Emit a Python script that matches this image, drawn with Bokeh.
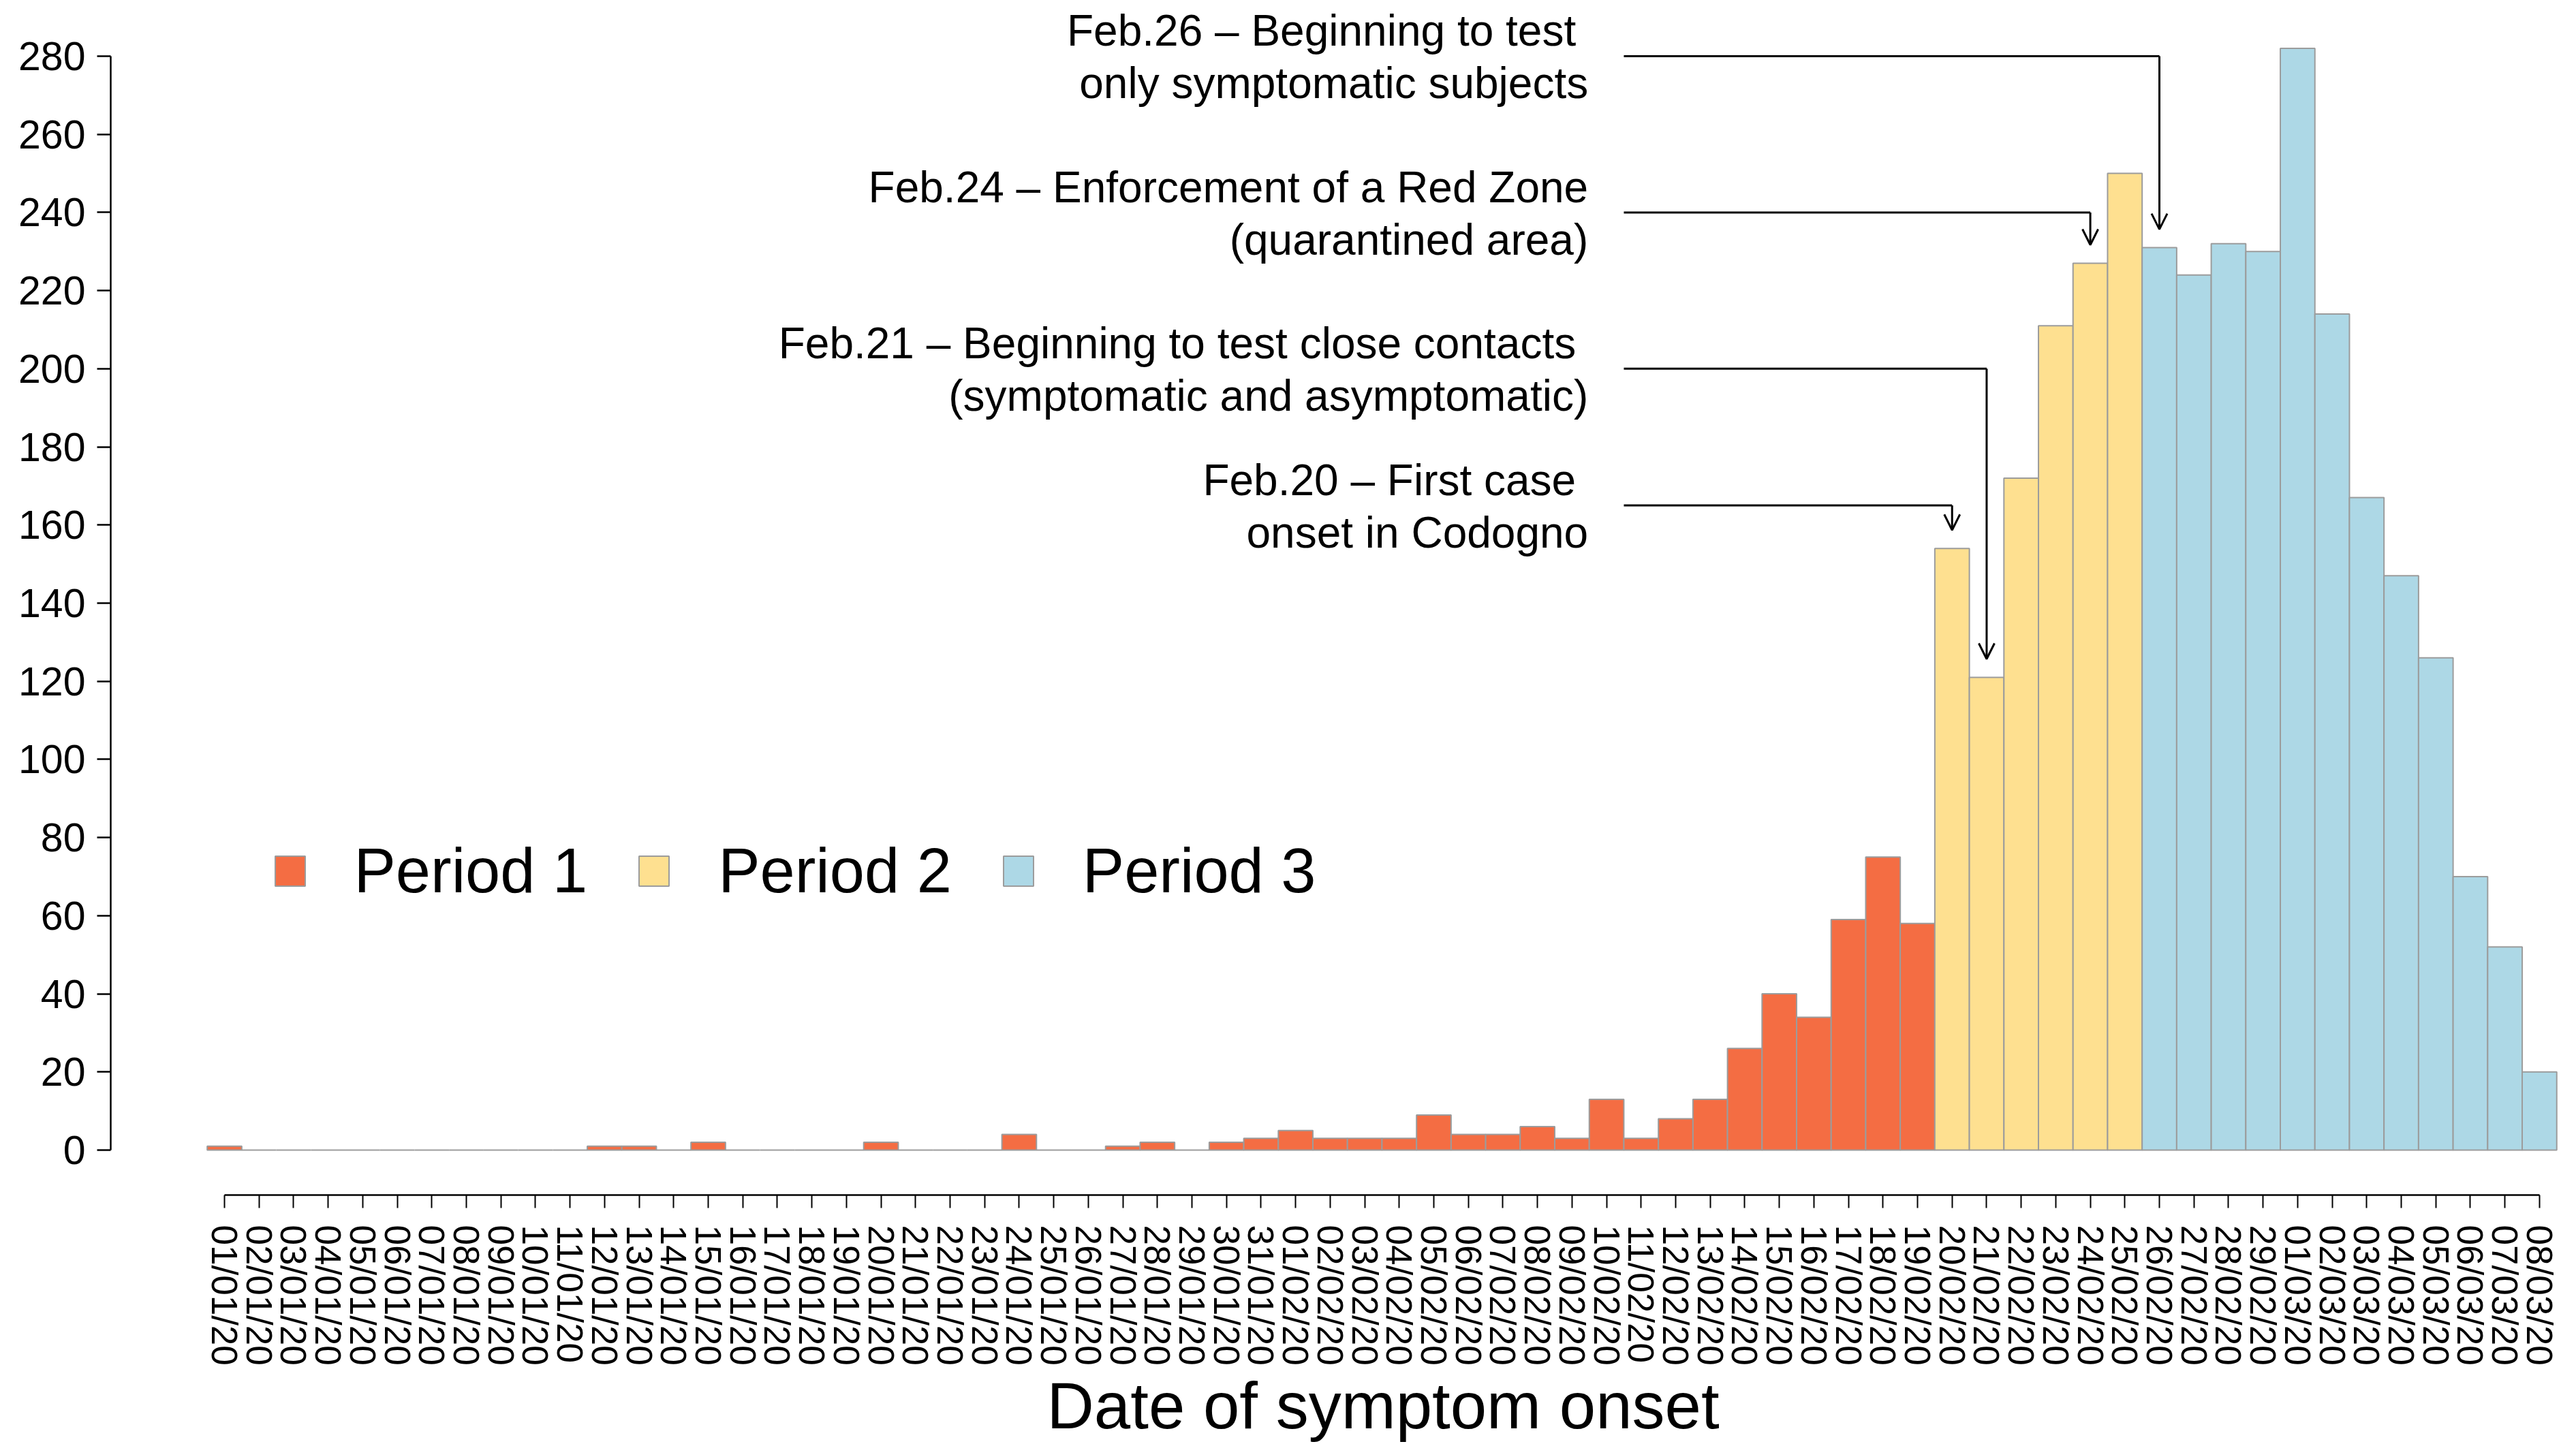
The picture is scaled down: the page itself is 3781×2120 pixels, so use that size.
import pandas as pd
from bokeh.plotting import figure
from bokeh.models import (ColumnDataSource, FixedTicker, Range1d, Legend,
                          LegendItem, Arrow, OpenHead, Title)
from bokeh.core.properties import value
from bokeh.embed import file_html
from bokeh.resources import INLINE

# ---------------- data ----------------
dates = pd.date_range("2020-01-01", "2020-03-08", freq="D")
date_labels = [d.strftime("%d/%m/%y") for d in dates]

cases = [
    # January 1..31
    1, 0, 0, 0, 0, 0, 0, 0, 0, 0, 0, 1, 1, 0, 2, 0, 0, 0, 0, 2,
    0, 0, 0, 4, 0, 0, 1, 2, 0, 2, 3,
    # February 1..29
    5, 3, 3, 3, 9, 4, 4, 6, 3, 13, 3, 8, 13, 26, 40, 34, 59, 75, 58,
    154, 121, 172, 211, 227, 250, 231, 224, 232, 230,
    # March 1..8
    282, 214, 167, 147, 126, 70, 52, 20,
]

period_names = ["Period 1", "Period 2", "Period 3"]
period_colors = ["#F46D43", "#FEE090", "#ADD8E6"]
period_start_labels = ["01/01/20", "20/02/20", "26/02/20"]

y_ticks = list(range(0, 281, 20))

x_title = "Date of symptom onset"

event_dates = ["20/02/20", "21/02/20", "24/02/20", "26/02/20"]
event_levels = [165, 200, 240, 280]
event_line1 = ["Feb.20 \u2013 First case",
               "Feb.21 \u2013 Beginning to test close contacts",
               "Feb.24 \u2013 Enforcement of a Red Zone",
               "Feb.26 \u2013 Beginning to test"]
event_line2 = ["onset in Codogno",
               "(symptomatic and asymptomatic)",
               "(quarantined area)",
               "only symptomatic subjects"]
event_line1_trailing_space = [True, True, False, True]

# ---------------- layout constants ----------------
W, H = 3781, 2120
FONT = "Liberation Sans"
TEXT_X = 39.47      # right edge of annotation texts (in day-index units)
LINE_X0 = 40.5      # start of the horizontal leader lines
ARROW_GAP = 4.7     # gap between arrow tip and bar top (count units)

idx = list(range(len(cases)))
start_idx = [date_labels.index(s) for s in period_start_labels]
period_of = [sum(1 for s in start_idx if i >= s) - 1 for i in idx]

p = figure(width=W, height=H, output_backend="svg", toolbar_location=None,
           x_range=Range1d(-3.293, 67.85), y_range=Range1d(-11.507, 291.85),
           min_border_left=162, min_border_right=11, min_border_top=14,
           min_border_bottom=366)
p.background_fill_color = "white"
p.border_fill_color = "white"
p.outline_line_color = None
p.grid.visible = False

# bars
bar_renderers = []
for k in range(3):
    sel = [i for i in idx if period_of[i] == k]
    src = ColumnDataSource(dict(x=sel, top=[cases[i] for i in sel]))
    r = p.vbar(x="x", top="top", bottom=0, width=1.0, source=src,
               fill_color=period_colors[k], line_color="#9C9C9C", line_width=2)
    bar_renderers.append(r)

# legend
legend_items = [LegendItem(label=period_names[k], renderers=[bar_renderers[k]])
                for k in range(3)]
legend = Legend(items=legend_items, orientation="horizontal",
                location=(235.5, 423), glyph_width=55, glyph_height=55,
                label_standoff=67, spacing=70, padding=0, margin=0,
                border_line_color=None, background_fill_alpha=0,
                label_text_font=FONT, label_text_font_size="92px",
                label_text_color="black")
p.add_layout(legend)

# annotations
ev_idx = [date_labels.index(d) for d in event_dates]
ann = ColumnDataSource(dict(
    x=ev_idx,
    x0=[LINE_X0] * len(ev_idx),
    level=event_levels,
    tip=[cases[i] + ARROW_GAP for i in ev_idx],
    tx=[TEXT_X] * len(ev_idx),
    l1=event_line1,
    l2=event_line2,
    xoff=[-18 if t else 0 for t in event_line1_trailing_space],
))
p.segment(x0="x0", y0="level", x1="x", y1="level", source=ann,
          line_color="black", line_width=3)
p.add_layout(Arrow(end=OpenHead(size=23, line_width=3, line_color="black"),
                   x_start="x", y_start="level", x_end="x", y_end="tip",
                   source=ann, line_width=3, line_color="black"))
p.text(x="tx", y="level", text="l1", source=ann, x_offset="xoff", y_offset=-37,
       text_align="right", text_baseline="middle",
       text_font=value(FONT), text_font_size="64px", text_color="black")
p.text(x="tx", y="level", text="l2", source=ann, y_offset=40,
       text_align="right", text_baseline="middle",
       text_font=value(FONT), text_font_size="64px", text_color="black")

# axes
xa = p.xaxis[0]
xa.ticker = FixedTicker(ticks=idx)
xa.major_label_overrides = {i: lab for i, lab in enumerate(date_labels)}
xa.bounds = (0, len(cases) - 1)
xa.major_label_orientation = "vertical"
xa.major_tick_out = 19
xa.major_tick_in = 0
xa.minor_tick_out = 0
xa.minor_tick_in = 0
xa.major_tick_line_width = 2
xa.axis_line_width = 2.5
xa.major_label_standoff = 25
xa.major_label_text_font = FONT
xa.major_label_text_font_size = "53px"
xa.major_label_text_color = "black"

# x-axis title, centred on the tick span (not on the frame)
p.add_layout(Title(text=x_title, align="left", offset=1374, standoff=4,
                   vertical_align="top", text_font=FONT,
                   text_font_size="96px", text_font_style="normal",
                   text_color="black"), "below")

ya = p.yaxis[0]
ya.ticker = FixedTicker(ticks=y_ticks)
ya.bounds = (0, 280)
ya.major_tick_out = 20
ya.major_tick_in = 0
ya.minor_tick_out = 0
ya.minor_tick_in = 0
ya.major_tick_line_width = 2.5
ya.axis_line_width = 2.5
ya.major_label_standoff = 17
ya.major_label_text_font = FONT
ya.major_label_text_font_size = "59px"
ya.major_label_text_color = "black"

open("out.html", "w").write(file_html(p, INLINE))
